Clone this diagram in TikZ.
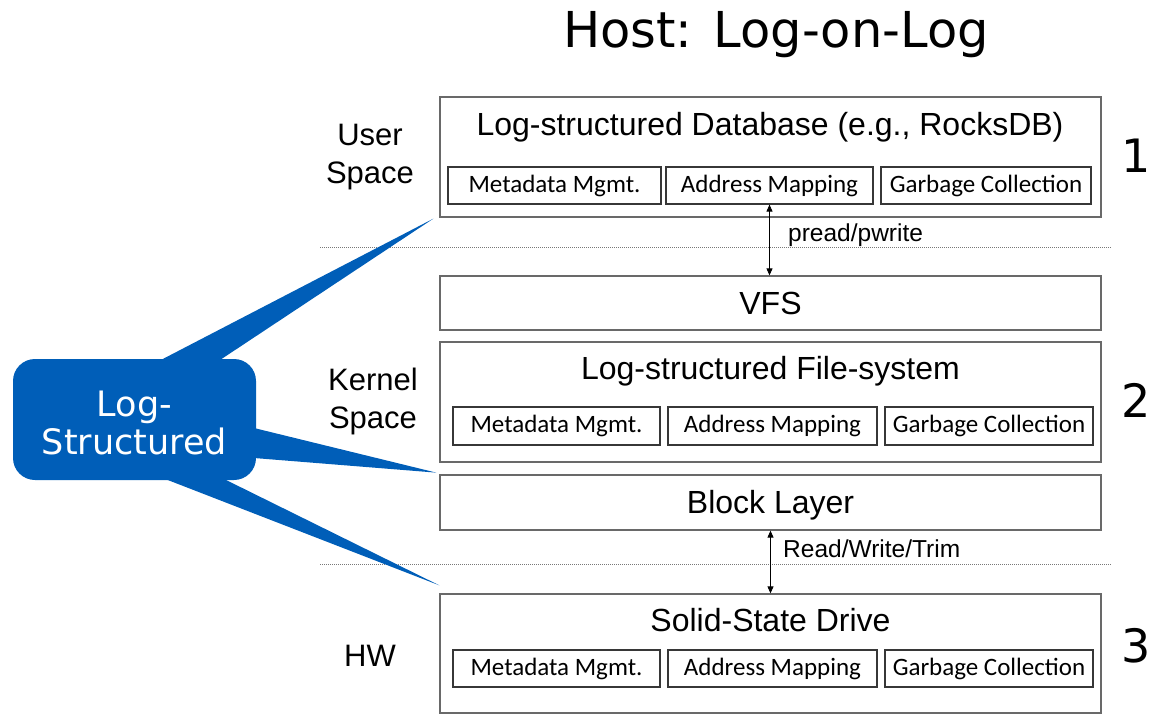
\documentclass[tikz,border=0pt]{standalone}
\usepackage{fontspec}
\setmainfont{Liberation Sans}
\newfontfamily\calfont{Carlito}
\newfontfamily\dejavu{DejaVu Sans}
\usetikzlibrary{arrows.meta,calc}
\definecolor{callblue}{RGB}{0,94,184}
\definecolor{boxgray}{RGB}{105,105,105}
\definecolor{subgray}{RGB}{55,55,55}
\definecolor{dotgray}{RGB}{120,120,120}

\begin{document}
\begin{tikzpicture}[x=1pt,y=-1pt,
  layerbox/.style={draw=boxgray,line width=1.3pt,inner sep=0pt,minimum width=661pt},
  subbox/.style={draw=subgray,line width=1.2pt,inner sep=0pt,
    font=\calfont\fontsize{25}{29}\selectfont,text height=18pt,text depth=5pt},
  boxtitle/.style={anchor=base,inner sep=0pt,font=\fontsize{32}{38}\selectfont},
  sidelabel/.style={align=center,inner sep=0pt,font=\fontsize{31}{38}\selectfont},
  iolabel/.style={anchor=base west,inner sep=0pt,font=\fontsize{24.5}{28}\selectfont},
  levelnum/.style={anchor=base west,inner sep=0pt,font=\dejavu\fontsize{46}{50}\selectfont},
  sepline/.style={draw=dotgray,line width=1pt,dash pattern=on 1pt off 1pt},
  biarrow/.style={draw=black,line width=0.9pt,{Triangle[length=7pt,width=6pt]}-{Triangle[length=7pt,width=6pt]}},
  spike/.style={fill=callblue,draw=none},
]
\useasboundingbox (0,0) rectangle (1152,715);

% heading
\node[anchor=base,inner sep=0pt,font=\dejavu\fontsize{49.5}{56}\selectfont] (head) at (776,47) {Host: Log-on-Log};

% user space: database
\node[layerbox,minimum height=120pt] (db) at (770.5,157) {};
\node[boxtitle] (dbt) at (770,135) {Log-structured Database (e.g., RocksDB)};
\node[subbox,minimum width=213pt,minimum height=37pt] (md1) at (554.5,185.5) {Metadata Mgmt.};
\node[subbox,minimum width=207pt,minimum height=37pt] (am1) at (769.5,185.5) {Address Mapping};
\node[subbox,minimum width=210pt,minimum height=37pt] (gc1) at (986,185.5) {Garbage Collection};

% kernel space
\node[layerbox,minimum height=54pt] (vfs) at (770.5,303) {};
\node[boxtitle] (vfst) at (770.5,314) {VFS};

\node[layerbox,minimum height=120pt] (lfs) at (770.5,402) {};
\node[boxtitle] (lfst) at (770.5,379) {Log-structured File-system};
\node[subbox,minimum width=207pt,minimum height=38pt] (md2) at (556.5,426) {Metadata Mgmt.};
\node[subbox,minimum width=209pt,minimum height=38pt] (am2) at (772.5,426) {Address Mapping};
\node[subbox,minimum width=208pt,minimum height=38pt] (gc2) at (989,426) {Garbage Collection};

\node[layerbox,minimum height=55pt] (bl) at (770.5,502.5) {};
\node[boxtitle] (blt) at (770.5,513) {Block Layer};

% hardware
\node[layerbox,minimum height=119pt] (ssd) at (770.5,653.5) {};
\node[boxtitle] (ssdt) at (770.5,631) {Solid-State Drive};
\node[subbox,minimum width=207pt,minimum height=37pt] (md3) at (556.5,668.5) {Metadata Mgmt.};
\node[subbox,minimum width=209pt,minimum height=37pt] (am3) at (772.5,668.5) {Address Mapping};
\node[subbox,minimum width=208pt,minimum height=37pt] (gc3) at (989,668.5) {Garbage Collection};

% boundaries between spaces
\coordinate (s1a) at (320,247); \coordinate (s1b) at (1112,247);
\coordinate (s2a) at (320,564); \coordinate (s2b) at (1112,564);
\draw[sepline] (s1a) -- (s1b);
\draw[sepline] (s2a) -- (s2b);

% interfaces
\draw[biarrow] (am1.south) -- (am1.south |- vfs.north);
\draw[biarrow] (bl.south) -- (bl.south |- ssd.north);
\node[iolabel] (io1) at (788,241) {pread/pwrite};
\node[iolabel] (io2) at (783,557) {Read/Write/Trim};

% space labels
\node[sidelabel] (us) at (370,157) {User\\Space};
\node[sidelabel] (ks) at (373,401) {Kernel\\Space};
\node[sidelabel] (hw) at (370,656) {HW};

% level numbers
\node[levelnum] (n1) at (1121,172) {1};
\node[levelnum] (n2) at (1121,417) {2};
\node[levelnum] (n3) at (1121,662) {3};

% callout
\coordinate (tipU) at ([xshift=-6pt,yshift=-1pt]db.south west);
\coordinate (tipK) at ([xshift=-3pt,yshift=-10pt]lfs.south west);
\coordinate (tipH) at ([xshift=0pt,yshift=8pt]ssd.north west);
\fill[spike] (157,362) -- (tipU) -- (217,362) -- cycle;
\fill[spike] (254,428) -- (tipK) -- (254,458) -- cycle;
\fill[spike] (160,477) -- (tipH) -- (220,477) -- cycle;
\node[fill=callblue,rounded corners=22pt,minimum width=243pt,minimum height=121pt,inner sep=0pt,
  text=white,align=center,font=\dejavu\fontsize{35}{38}\selectfont] (ls) at (134.5,419.5) {};
\node[text=white,align=center,inner sep=0pt,font=\dejavu\fontsize{35}{38}\selectfont] (lst) at (134.5,423) {Log-\\Structured};
\end{tikzpicture}
\end{document}
